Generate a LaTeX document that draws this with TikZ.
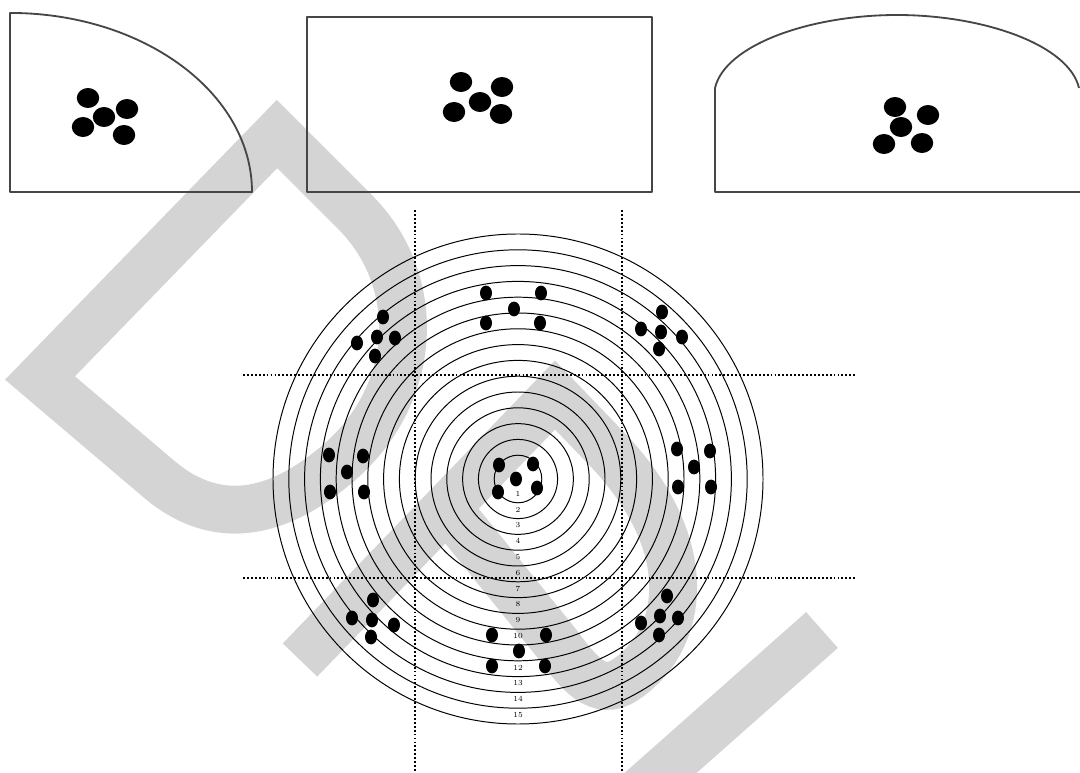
\documentclass[tikz,border=0pt]{standalone}
\usepackage{tikz}
\usetikzlibrary{calc}
\definecolor{wmgray}{RGB}{212,212,212}
\definecolor{edgegray}{RGB}{70,70,70}

\begin{document}
\begin{tikzpicture}[x=0.025cm,y=-0.025cm,every node/.style={font=\fontsize{5.5}{6}\selectfont}]
  \tikzstyle{wm}=[draw=wmgray, line width=34pt]
  \tikzstyle{frame}=[draw=edgegray, line width=1.3pt, line join=round]
  \tikzstyle{ringline}=[draw=black, line width=0.7pt]
  \tikzstyle{guide}=[draw=black, line width=1.4pt, dash pattern=on 1.3pt off 1.5pt]
  \tikzstyle{ringlab}=[inner sep=0pt]
  \useasboundingbox (0,0) rectangle (1080,773);
  % watermark behind everything
  \draw[wm, line join=miter] (40,378) -- (277,134) -- (355,212) .. controls (425,282) and (420,400) .. (330,470)
    .. controls (280,510) and (220,530) .. (160,480) -- cycle;
  \draw[wm, line join=miter] (300,660) -- (555,395) -- (605,447) .. controls (700,545) and (685,640) .. (625,680)
    .. controls (598,698) and (578,672) .. (558,645) -- (445,505);
  \draw[wm] (630,800) -- (822,630);
  % the three cross sections
  \draw[frame] (10,13) -- (10,192) -- (252,192) arc[start angle=0, end angle=90, x radius=6.05cm, y radius=4.475cm] -- cycle;
  \draw[frame] (307,17) rectangle (652,192);
  \draw[frame] (1080,192) -- (715,192) -- (715,88) .. controls (725,45) and (810,15) .. (897,15)
    .. controls (984,15) and (1069,45) .. (1079,88);
  \foreach \x/\y in {88/98,127/109,104/117,83/127,124/135,
                     461/82,502/87,480/102,454/112,501/114,
                     895/107,928/115,901/127,884/144,922/143}
    \fill (\x,\y) ellipse (0.28cm and 0.25cm);
  % target
  \coordinate (tc) at (518,479);
  \foreach \k in {1,...,15}{
    \pgfmathsetmacro\rr{(8+15.8*\k)*0.025}
    \draw[ringline] (tc) circle[radius=\rr cm];
  }
  \draw[guide] (415,210) -- (415,773);
  \draw[guide] (622,210) -- (622,773);
  \draw[guide] (243,375) -- (857,375);
  \draw[guide] (243,578) -- (857,578);
  \foreach \k in {1,...,15}
    \node[ringlab] (lab\k) at ($(tc)+(0,{15.8*\k-1})$) {\k};
  \foreach \x/\y in {486/293,541/293,514/309,486/323,540/323,
                     383/317,357/343,377/337,395/338,375/356,
                     662/312,641/329,661/332,682/337,659/349,
                     329/455,363/456,347/472,330/492,364/492,
                     677/449,710/451,694/467,678/487,711/487,
                     373/600,352/618,372/620,394/625,371/637,
                     492/635,546/635,519/651,492/666,545/666,
                     667/596,641/623,660/616,678/618,659/635,
                     499/465,533/464,516/479,498/492,537/488}
    \fill (\x,\y) ellipse (0.15cm and 0.185cm);
\end{tikzpicture}
\end{document}
